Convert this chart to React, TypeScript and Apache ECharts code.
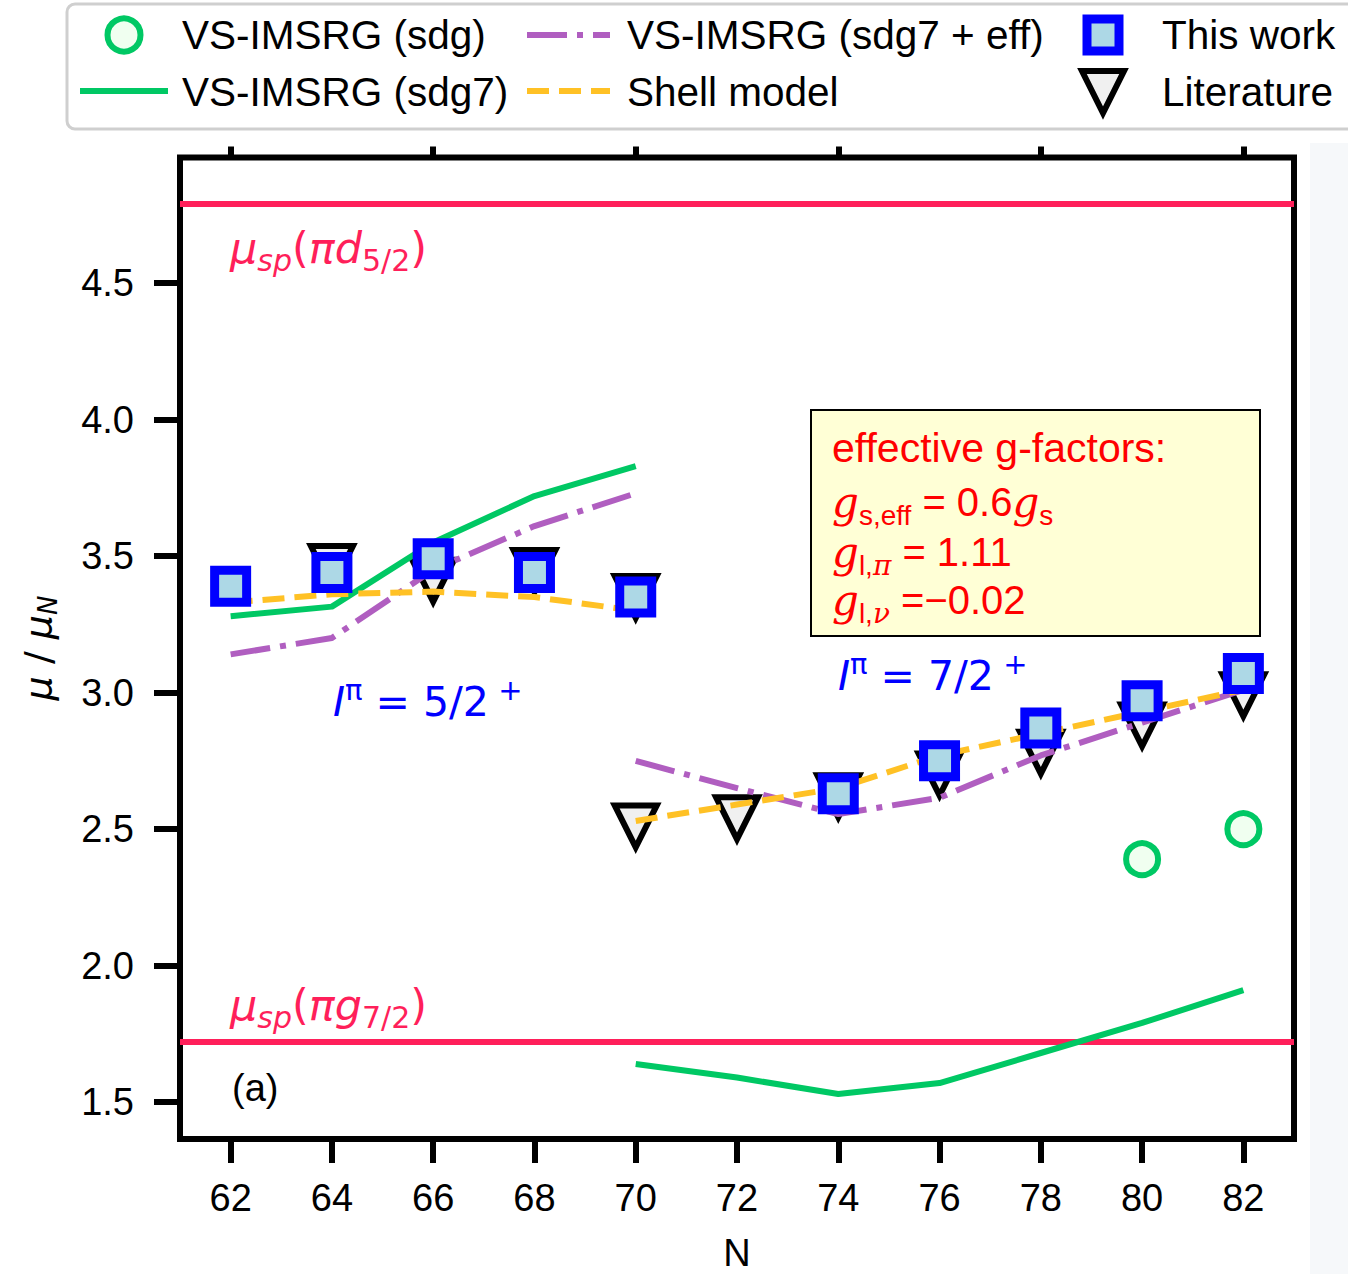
import React, { useEffect, useRef } from 'react';
import * as echarts from 'echarts';

// ---- data ----
const xTicks = [62, 64, 66, 68, 70, 72, 74, 76, 78, 80, 82];
const xTopTicks = [62, 66, 70, 74, 78, 82];
const yTicks = [1.5, 2.0, 2.5, 3.0, 3.5, 4.0, 4.5];

const nLeft = [62, 64, 66, 68, 70];
const nRight = [70, 72, 74, 76, 78, 80, 82];

const sdg7Left = [3.28, 3.315, 3.55, 3.72, 3.83];
const sdg7Right = [1.64, 1.59, 1.53, 1.57, 1.68, 1.79, 1.91];

const effLeft = [3.14, 3.2, 3.45, 3.61, 3.73];
const effRight = [2.75, 2.65, 2.555, 2.615, 2.77, 2.89, 3.01];

const shellLeft = [3.33, 3.36, 3.37, 3.35, 3.3];
const shellRight = [2.53, 2.59, 2.65, 2.77, 2.85, 2.93, 3.01];

const sdgN = [80, 82];
const sdgV = [2.39, 2.5];

const thisWorkN = [62, 64, 66, 68, 70, 74, 76, 78, 80, 82];
const thisWorkV = [3.39, 3.44, 3.49, 3.44, 3.35, 2.63, 2.75, 2.87, 2.97, 3.07];

const litN = [64, 66, 68, 70, 70, 72, 74, 76, 78, 80, 82];
const litV = [3.46, 3.41, 3.445, 3.35, 2.51, 2.54, 2.62, 2.7, 2.78, 2.88, 2.99];

const spValues = [4.79, 1.72];

// ---- styles ----
const GREEN = '#00c864';
const PURPLE = '#b05ec0';
const YELLOW = '#ffc125';
const PINK = '#ff1f5a';
const SANS = 'Liberation Sans';
const MATH = 'DejaVu Sans';
const SERIF = 'DejaVu Serif';
const TRI = 'path://M0,0 L2,0 L1,2 Z';

const pair = (xs: number[], ys: number[]) => xs.map((x, i) => [x, ys[i]]);

const lineSeries = (name: string, xs: number[], ys: number[], color: string, type: any) => ({
  name,
  type: 'line',
  data: pair(xs, ys),
  symbol: 'none',
  showSymbol: false,
  silent: true,
  z: 3,
  lineStyle: { color, width: 6, type, cap: 'butt', join: 'round' },
});

const mathRich = (color: string, size: number, sub: number, pad: number) => ({
  mi: { fontFamily: MATH, fontStyle: 'italic', fontSize: size, fill: color, verticalAlign: 'middle' },
  n: { fontFamily: MATH, fontSize: size, fill: color, verticalAlign: 'middle' },
  si: { fontFamily: MATH, fontStyle: 'italic', fontSize: sub, fill: color, padding: [pad, 0, 0, 0], verticalAlign: 'middle' },
  sn: { fontFamily: MATH, fontSize: sub, fill: color, padding: [pad, 0, 0, 0], verticalAlign: 'middle' },
  sup: { fontFamily: MATH, fontSize: sub, fill: color, padding: [0, 0, pad, 0], verticalAlign: 'middle' },
  supi: { fontFamily: MATH, fontStyle: 'italic', fontSize: sub, fill: color, padding: [0, 0, pad, 0], verticalAlign: 'middle' },
});

const RED = '#ff0000';
const boxRich = {
  g: { fontFamily: SERIF, fontStyle: 'italic', fontSize: 42, fill: RED, verticalAlign: 'middle' },
  n: { fontFamily: SANS, fontSize: 40, fill: RED, verticalAlign: 'middle' },
  s: { fontFamily: SANS, fontSize: 28, fill: RED, padding: [26, 0, 0, 0], verticalAlign: 'middle' },
  si: { fontFamily: SERIF, fontStyle: 'italic', fontSize: 28, fill: RED, padding: [26, 0, 0, 0], verticalAlign: 'middle' },
};

function buildOption() {
  const txt = (x: number, y: number, text: string, extra: any = {}) => ({
    type: 'text',
    x,
    y,
    z: 100,
    style: {
      text,
      fontFamily: SANS,
      fontSize: 40,
      fill: '#000',
      align: 'left',
      verticalAlign: 'middle',
      ...extra,
    },
  });

  const graphic: any[] = [
    // faint right strip
    { type: 'rect', z: -10, shape: { x: 1310, y: 143, width: 38, height: 1131 }, style: { fill: '#f6f8fa' } },
    // legend frame
    { type: 'rect', z: 90, shape: { x: 67, y: 4, width: 1300, height: 125, r: 8 }, style: { fill: '#ffffff', stroke: '#cfcfcf', lineWidth: 3 } },
    { type: 'circle', z: 95, shape: { cx: 124, cy: 35, r: 16.5 }, style: { fill: '#f0fff0', stroke: GREEN, lineWidth: 6 } },
    { type: 'line', z: 95, shape: { x1: 80, y1: 91, x2: 168, y2: 91 }, style: { stroke: GREEN, lineWidth: 6 } },
    { type: 'line', z: 95, shape: { x1: 527, y1: 35, x2: 610, y2: 35 }, style: { stroke: PURPLE, lineWidth: 6, lineDash: [40, 10, 6, 10] } },
    { type: 'line', z: 95, shape: { x1: 527, y1: 91, x2: 610, y2: 91 }, style: { stroke: YELLOW, lineWidth: 6, lineDash: [22, 10] } },
    { type: 'rect', z: 95, shape: { x: 1087, y: 19, width: 32, height: 32 }, style: { fill: '#add8e6', stroke: '#0000ff', lineWidth: 9 } },
    { type: 'polygon', z: 95, shape: { points: [[1082, 71], [1124, 71], [1103, 113]] }, style: { fill: '#f0f0f0', stroke: '#000', lineWidth: 6 } },
    txt(182, 35, 'VS-IMSRG (sdg)', { fontSize: 40.5 }),
    txt(182, 92, 'VS-IMSRG (sdg7)', { fontSize: 40.5 }),
    txt(627, 35, 'VS-IMSRG (sdg7 + eff)', { fontSize: 40.5 }),
    txt(627, 92, 'Shell model', { fontSize: 40.5 }),
    txt(1162, 35, 'This work', { fontSize: 40.5 }),
    txt(1162, 92, 'Literature', { fontSize: 40.5 }),
    // annotation box
    { type: 'rect', z: 50, shape: { x: 811, y: 410, width: 449, height: 226 }, style: { fill: '#ffffd6', stroke: '#000', lineWidth: 2 } },
    txt(832, 448, 'effective g-factors:', { fill: RED, fontSize: 41 }),
    txt(832, 502, '{g|g}{s|s,eff}{n| = 0.6}{g|g}{s|s}', { rich: boxRich }),
    txt(832, 552, '{g|g}{s|l,}{si|π}{n| = 1.11}', { rich: boxRich }),
    txt(832, 600, '{g|g}{s|l,}{si|ν}{n| =−0.02}', { rich: boxRich }),
    // mu_sp labels
    txt(230, 248, '{mi|μ}{si|sp}{n|(}{mi|πd}{sn|5/2}{n|)}', { rich: mathRich(PINK, 43, 30, 24) }),
    txt(230, 1005, '{mi|μ}{si|sp}{n|(}{mi|πg}{sn|7/2}{n|)}', { rich: mathRich(PINK, 43, 30, 24) }),
    // spin labels
    txt(333, 702, '{mi|I}{sup|π}{n| = 5/2}{sup| +}', { rich: mathRich('#0000ff', 41, 29, 24) }),
    txt(838, 676, '{mi|I}{sup|π}{n| = 7/2}{sup| +}', { rich: mathRich('#0000ff', 41, 29, 24) }),
    // (a)
    txt(232, 1088, '(a)', { fontSize: 38 }),
    // axis names
    txt(737, 1253, 'N', { fontSize: 38, align: 'center' }),
    {
      type: 'text',
      x: 38,
      y: 648,
      rotation: Math.PI / 2,
      z: 100,
      style: {
        text: '{mi|μ}{n| / }{mi|μ}{si|N}',
        align: 'center',
        verticalAlign: 'middle',
        rich: mathRich('#000', 38, 26, 20),
      },
    },
  ];

  const spSeries = spValues.map((v, i) => ({
    name: 'sp' + i,
    type: 'line',
    data: [[61, v], [83, v]],
    symbol: 'none',
    silent: true,
    z: 1,
    lineStyle: { color: PINK, width: 6 },
  }));

  return {
    animation: false,
    backgroundColor: '#ffffff',
    grid: {
      left: 180,
      top: 157.5,
      width: 1114,
      height: 981.5,
      show: true,
      borderColor: '#000',
      borderWidth: 6,
      backgroundColor: 'transparent',
    },
    xAxis: [
      {
        type: 'value',
        min: 61,
        max: 83,
        position: 'bottom',
        axisLine: { show: false },
        splitLine: { show: false },
        axisTick: { show: true, inside: false, length: 24, customValues: xTicks, lineStyle: { color: '#000', width: 6 } },
        axisLabel: { customValues: xTicks, fontSize: 38, fontFamily: SANS, color: '#000', margin: 40 },
      },
      {
        type: 'value',
        min: 61,
        max: 83,
        position: 'top',
        axisLine: { show: false },
        splitLine: { show: false },
        axisTick: { show: true, inside: false, length: 11, customValues: xTopTicks, lineStyle: { color: '#000', width: 6 } },
        axisLabel: { show: false },
      },
    ],
    yAxis: {
      type: 'value',
      min: 1.365,
      max: 4.96,
      axisLine: { show: false },
      splitLine: { show: false },
      axisTick: { show: true, inside: false, length: 26, customValues: yTicks, lineStyle: { color: '#000', width: 6 } },
      axisLabel: {
        customValues: yTicks,
        fontSize: 38,
        fontFamily: SANS,
        color: '#000',
        margin: 46,
        formatter: (v: number) => v.toFixed(1),
      },
    },
    graphic,
    series: [
      ...spSeries,
      {
        name: 'Literature',
        type: 'scatter',
        data: pair(litN, litV),
        symbol: TRI,
        symbolSize: 42,
        z: 2,
        itemStyle: { color: '#f0f0f0', borderColor: '#000', borderWidth: 6, opacity: 1 },
      },
      lineSeries('VS-IMSRG (sdg7)', nLeft, sdg7Left, GREEN, 'solid'),
      lineSeries('VS-IMSRG (sdg7)', nRight, sdg7Right, GREEN, 'solid'),
      lineSeries('VS-IMSRG (sdg7 + eff)', nLeft, effLeft, PURPLE, [40, 10, 6, 10]),
      lineSeries('VS-IMSRG (sdg7 + eff)', nRight, effRight, PURPLE, [40, 10, 6, 10]),
      lineSeries('Shell model', nLeft, shellLeft, YELLOW, [22, 10]),
      lineSeries('Shell model', nRight, shellRight, YELLOW, [22, 10]),
      {
        name: 'VS-IMSRG (sdg)',
        type: 'scatter',
        data: pair(sdgN, sdgV),
        symbol: 'circle',
        symbolSize: 32,
        z: 4,
        itemStyle: { color: '#f0fff0', borderColor: GREEN, borderWidth: 6, opacity: 1 },
      },
      {
        name: 'This work',
        type: 'scatter',
        data: pair(thisWorkN, thisWorkV),
        symbol: 'rect',
        symbolSize: 32,
        z: 5,
        itemStyle: { color: '#add8e6', borderColor: '#0000ff', borderWidth: 9, opacity: 1 },
      },
    ],
  };
}

export default function App() {
  const ref = useRef<HTMLDivElement>(null);
  useEffect(() => {
    document.body.style.margin = '0';
    const chart = echarts.init(ref.current!, null, { renderer: 'svg', width: 1348, height: 1274 });
    chart.setOption(buildOption() as any);
    return () => chart.dispose();
  }, []);
  return <div ref={ref} style={{ width: 1348, height: 1274, position: 'absolute', left: 0, top: 0 }} />;
}
